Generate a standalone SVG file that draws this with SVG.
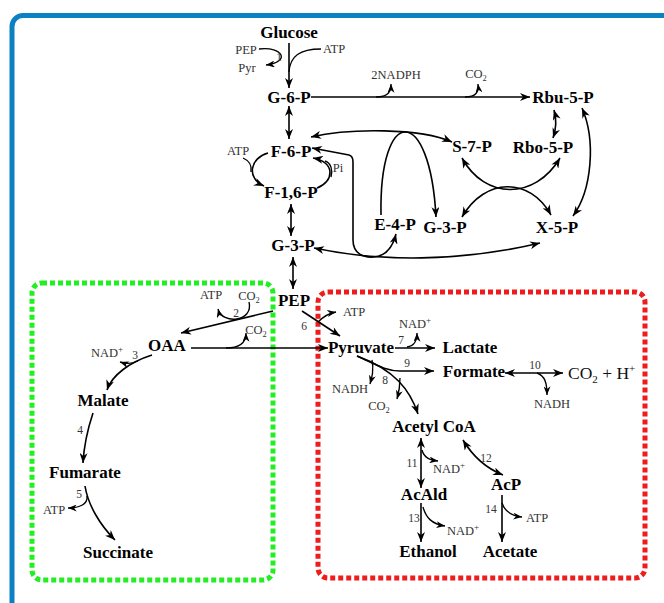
<svg xmlns="http://www.w3.org/2000/svg" width="664" height="603" viewBox="0 0 664 603">
<style>
.n{font-family:"Liberation Serif","Times New Roman",serif;font-weight:bold;font-size:17px;fill:#000;text-anchor:middle}
.s{font-family:"Liberation Serif","Times New Roman",serif;font-size:12.5px;fill:#333;text-anchor:middle}
.k{font-family:"Liberation Serif","Times New Roman",serif;font-size:11.5px;fill:#333;text-anchor:middle}
.l{fill:none;stroke:#000;stroke-width:1.6}
.b{fill:none;stroke:#000;stroke-width:1.35}
.a{marker-end:url(#ah)}
.d{marker-start:url(#ah);marker-end:url(#ah)}
.sa{marker-end:url(#sh)}
</style>
<defs>
<marker id="ah" viewBox="0 0 10 8" refX="10" refY="4" markerWidth="11" markerHeight="8" markerUnits="userSpaceOnUse" orient="auto-start-reverse"><path d="M0,0 L10,4 L0,8 L3,4 z" fill="#000"/></marker>
<marker id="sh" viewBox="0 0 10 8" refX="10" refY="4" markerWidth="9" markerHeight="7" markerUnits="userSpaceOnUse" orient="auto-start-reverse"><path d="M0,0 L10,4 L0,8 L3,4 z" fill="#000"/></marker>
</defs>
<rect x="0" y="0" width="664" height="603" fill="#fff"/>
<rect x="12" y="15.5" width="700" height="610" rx="11" fill="none" stroke="#0b80c3" stroke-width="5"/>
<rect id="box-green" x="32" y="283" width="241" height="297" rx="10" fill="none" stroke="#22ee22" stroke-width="5" stroke-dasharray="5 3"/>
<rect id="box-red" x="318" y="292" width="327" height="286" rx="10" fill="none" stroke="#ee1c1c" stroke-width="5" stroke-dasharray="5 3"/>

<g id="connectors">
<path class="l a" d="M289,43 L289,88"/>
<path class="b sa" d="M259,49 C283,46 291,62 266,65"/>
<path class="b" d="M321,49 C300,49 290,56 289,72"/>
<path class="l a" d="M311,97 L530,97"/>
<path class="b sa" d="M376,97 C388,97 391,92 391,84"/>
<path class="b sa" d="M465,97 C476,97 479,92 478,84"/>
<path class="l d" d="M554,110 Q558,124 553,138"/>
<path class="l d" d="M573,216 C592,190 596,140 582,108"/>
<path class="l d" d="M311,137 C350,128 420,128 452,142"/>
<path class="l a" d="M381,215 C379,104 430,104 436,217"/>
<path class="l d" d="M312,148 L349,155 Q353,156 353,162 L353,240 C353,254 364,258 374,257 C386,256 393,246 396,234"/>
<path class="l d" d="M314,248 C380,262 460,262 540,243"/>
<path class="l d" d="M462,158 C485,200 535,200 560,158"/>
<path class="l d" d="M462,217 C485,177 530,177 551,215"/>
<path class="l d" d="M289,106 L289,139"/>
<path class="l a" d="M268,153 C250,158 246,178 264,186"/>
<path class="b" d="M243,158 C250,161 252,166 251,172"/>
<path class="l a" d="M317,188 C334,182 336,162 313,158"/>
<path class="b" d="M331,177 C333,170 331,163 325,161"/>
<path class="l d" d="M291,204 L291,236"/>
<path class="l d" d="M293,257 L293,289"/>
<path class="l a" d="M273,311 L181,333"/>
<path class="b sa" d="M249,302 C254,322 222,325 218,309"/>
<path class="l a" d="M191,348 L328,348"/>
<path class="b sa" d="M226,348 C240,348 246,343 246,333"/>
<path class="l a" d="M302,311 L340,336"/>
<path class="b sa" d="M318,322 C324,316 330,313 336,312"/>
<path class="l a" d="M395,348 L435,348"/>
<path class="b sa" d="M407,347 C414,346 417,342 417,333"/>
<path class="l a" d="M357,356 C375,364 385,371 400,371 L434,371"/>
<path class="l a" d="M357,356 C395,370 410,390 418,414"/>
<path class="b sa" d="M372,360 C374,370 372,377 370,384"/>
<path class="b sa" d="M400,378 C400,386 399,392 397,399"/>
<path class="l d" d="M505,373 L563,373"/>
<path class="b sa" d="M537,373 C545,376 547,383 547,395"/>
<path class="l d" d="M421,438 L421,488"/>
<path class="b sa" d="M422,450 C424,458 430,460 438,461"/>
<path class="l d" d="M463,440 Q478,465 503,475"/>
<path class="l a" d="M421,503 L421,542"/>
<path class="b sa" d="M423,507 C426,518 432,524 445,526"/>
<path class="l a" d="M502,495 L502,542"/>
<path class="b sa" d="M502,503 C505,512 512,516 522,517"/>
<path class="l a" d="M152,355 C130,362 112,375 107,390"/>
<path class="b sa" d="M138,361 C132,364 126,364 120,362"/>
<path class="l a" d="M93,413 C88,428 84,445 83,463"/>
<path class="l a" d="M85,486 C88,505 100,525 115,540"/>
<path class="b sa" d="M87,496 C88,504 80,508 68,508"/>
</g>

<g id="labels">
<text class="s" x="246" y="54">PEP</text>
<text class="s" x="247" y="72">Pyr</text>
<text class="k" x="279" y="61">1</text>
<text class="s" x="334" y="53">ATP</text>
<text class="s" x="396" y="79">2NADPH</text>
<text class="s" x="476" y="78">CO<tspan font-size="8.5" dy="3">2</tspan></text>
<text class="s" x="238" y="155">ATP</text>
<text class="s" x="338" y="172">Pi</text>
<text class="s" x="211" y="299">ATP</text>
<text class="s" x="249" y="300">CO<tspan font-size="8.5" dy="3">2</tspan></text>
<text class="k" x="236" y="317">2</text>
<text class="s" x="256" y="334">CO<tspan font-size="8.5" dy="3">2</tspan></text>
<text class="s" x="354" y="316">ATP</text>
<text class="k" x="304" y="330">6</text>
<text class="s" x="415" y="328">NAD<tspan font-size="9" dy="-5">+</tspan></text>
<text class="k" x="401" y="344">7</text>
<text class="k" x="407" y="367">9</text>
<text class="s" x="350" y="393">NADH</text>
<text class="s" x="379" y="410">CO<tspan font-size="8.5" dy="3">2</tspan></text>
<text class="k" x="385" y="384">8</text>
<text class="k" x="535" y="369">10</text>
<text class="s" x="552" y="408">NADH</text>
<text class="s" x="449" y="473">NAD<tspan font-size="9" dy="-5">+</tspan></text>
<text class="k" x="412" y="467">11</text>
<text class="k" x="486" y="462">12</text>
<text class="s" x="463" y="535">NAD<tspan font-size="9" dy="-5">+</tspan></text>
<text class="k" x="414" y="522">13</text>
<text class="s" x="537" y="522">ATP</text>
<text class="k" x="491" y="513">14</text>
<text class="s" x="107" y="357">NAD<tspan font-size="9" dy="-5">+</tspan></text>
<text class="k" x="135" y="359">3</text>
<text class="k" x="80" y="434">4</text>
<text class="s" x="54" y="514">ATP</text>
<text class="k" x="79" y="498">5</text>
</g>

<g id="n-glucose"><text class="n" x="289" y="38">Glucose</text></g>
<g id="n-g6p"><text class="n" x="289" y="103">G-6-P</text></g>
<g id="n-rbu5p"><text class="n" x="563" y="103">Rbu-5-P</text></g>
<g id="n-f6p"><text class="n" x="291" y="157">F-6-P</text></g>
<g id="n-s7p"><text class="n" x="472" y="152">S-7-P</text></g>
<g id="n-rbo5p"><text class="n" x="543" y="153">Rbo-5-P</text></g>
<g id="n-f16p"><text class="n" x="291" y="198">F-1,6-P</text></g>
<g id="n-e4p"><text class="n" x="395" y="230">E-4-P</text></g>
<g id="n-g3p2"><text class="n" x="445" y="233">G-3-P</text></g>
<g id="n-x5p"><text class="n" x="557" y="233">X-5-P</text></g>
<g id="n-g3p"><text class="n" x="293" y="251">G-3-P</text></g>
<g id="n-pep"><text class="n" x="294" y="306">PEP</text></g>
<g id="n-oaa"><text class="n" x="167" y="351">OAA</text></g>
<g id="n-malate"><text class="n" x="103" y="406">Malate</text></g>
<g id="n-fumarate"><text class="n" x="85" y="478">Fumarate</text></g>
<g id="n-succinate"><text class="n" x="118" y="558">Succinate</text></g>
<g id="n-pyruvate"><text class="n" x="361" y="353">Pyruvate</text></g>
<g id="n-lactate"><text class="n" x="470" y="353">Lactate</text></g>
<g id="n-formate"><text class="n" x="474" y="377">Formate</text></g>
<g id="n-co2h"><text x="568" y="379" font-family="Liberation Serif, Times New Roman, serif" font-size="17.5" fill="#111">CO<tspan font-size="11" dy="4">2</tspan><tspan dy="-4"> + H</tspan><tspan font-size="11" dy="-7">+</tspan></text></g>
<g id="n-acetylcoa"><text class="n" x="434" y="432">Acetyl CoA</text></g>
<g id="n-acald"><text class="n" x="424" y="500">AcAld</text></g>
<g id="n-acp"><text class="n" x="506" y="490">AcP</text></g>
<g id="n-ethanol"><text class="n" x="428" y="557">Ethanol</text></g>
<g id="n-acetate"><text class="n" x="510" y="557">Acetate</text></g>
</svg>
